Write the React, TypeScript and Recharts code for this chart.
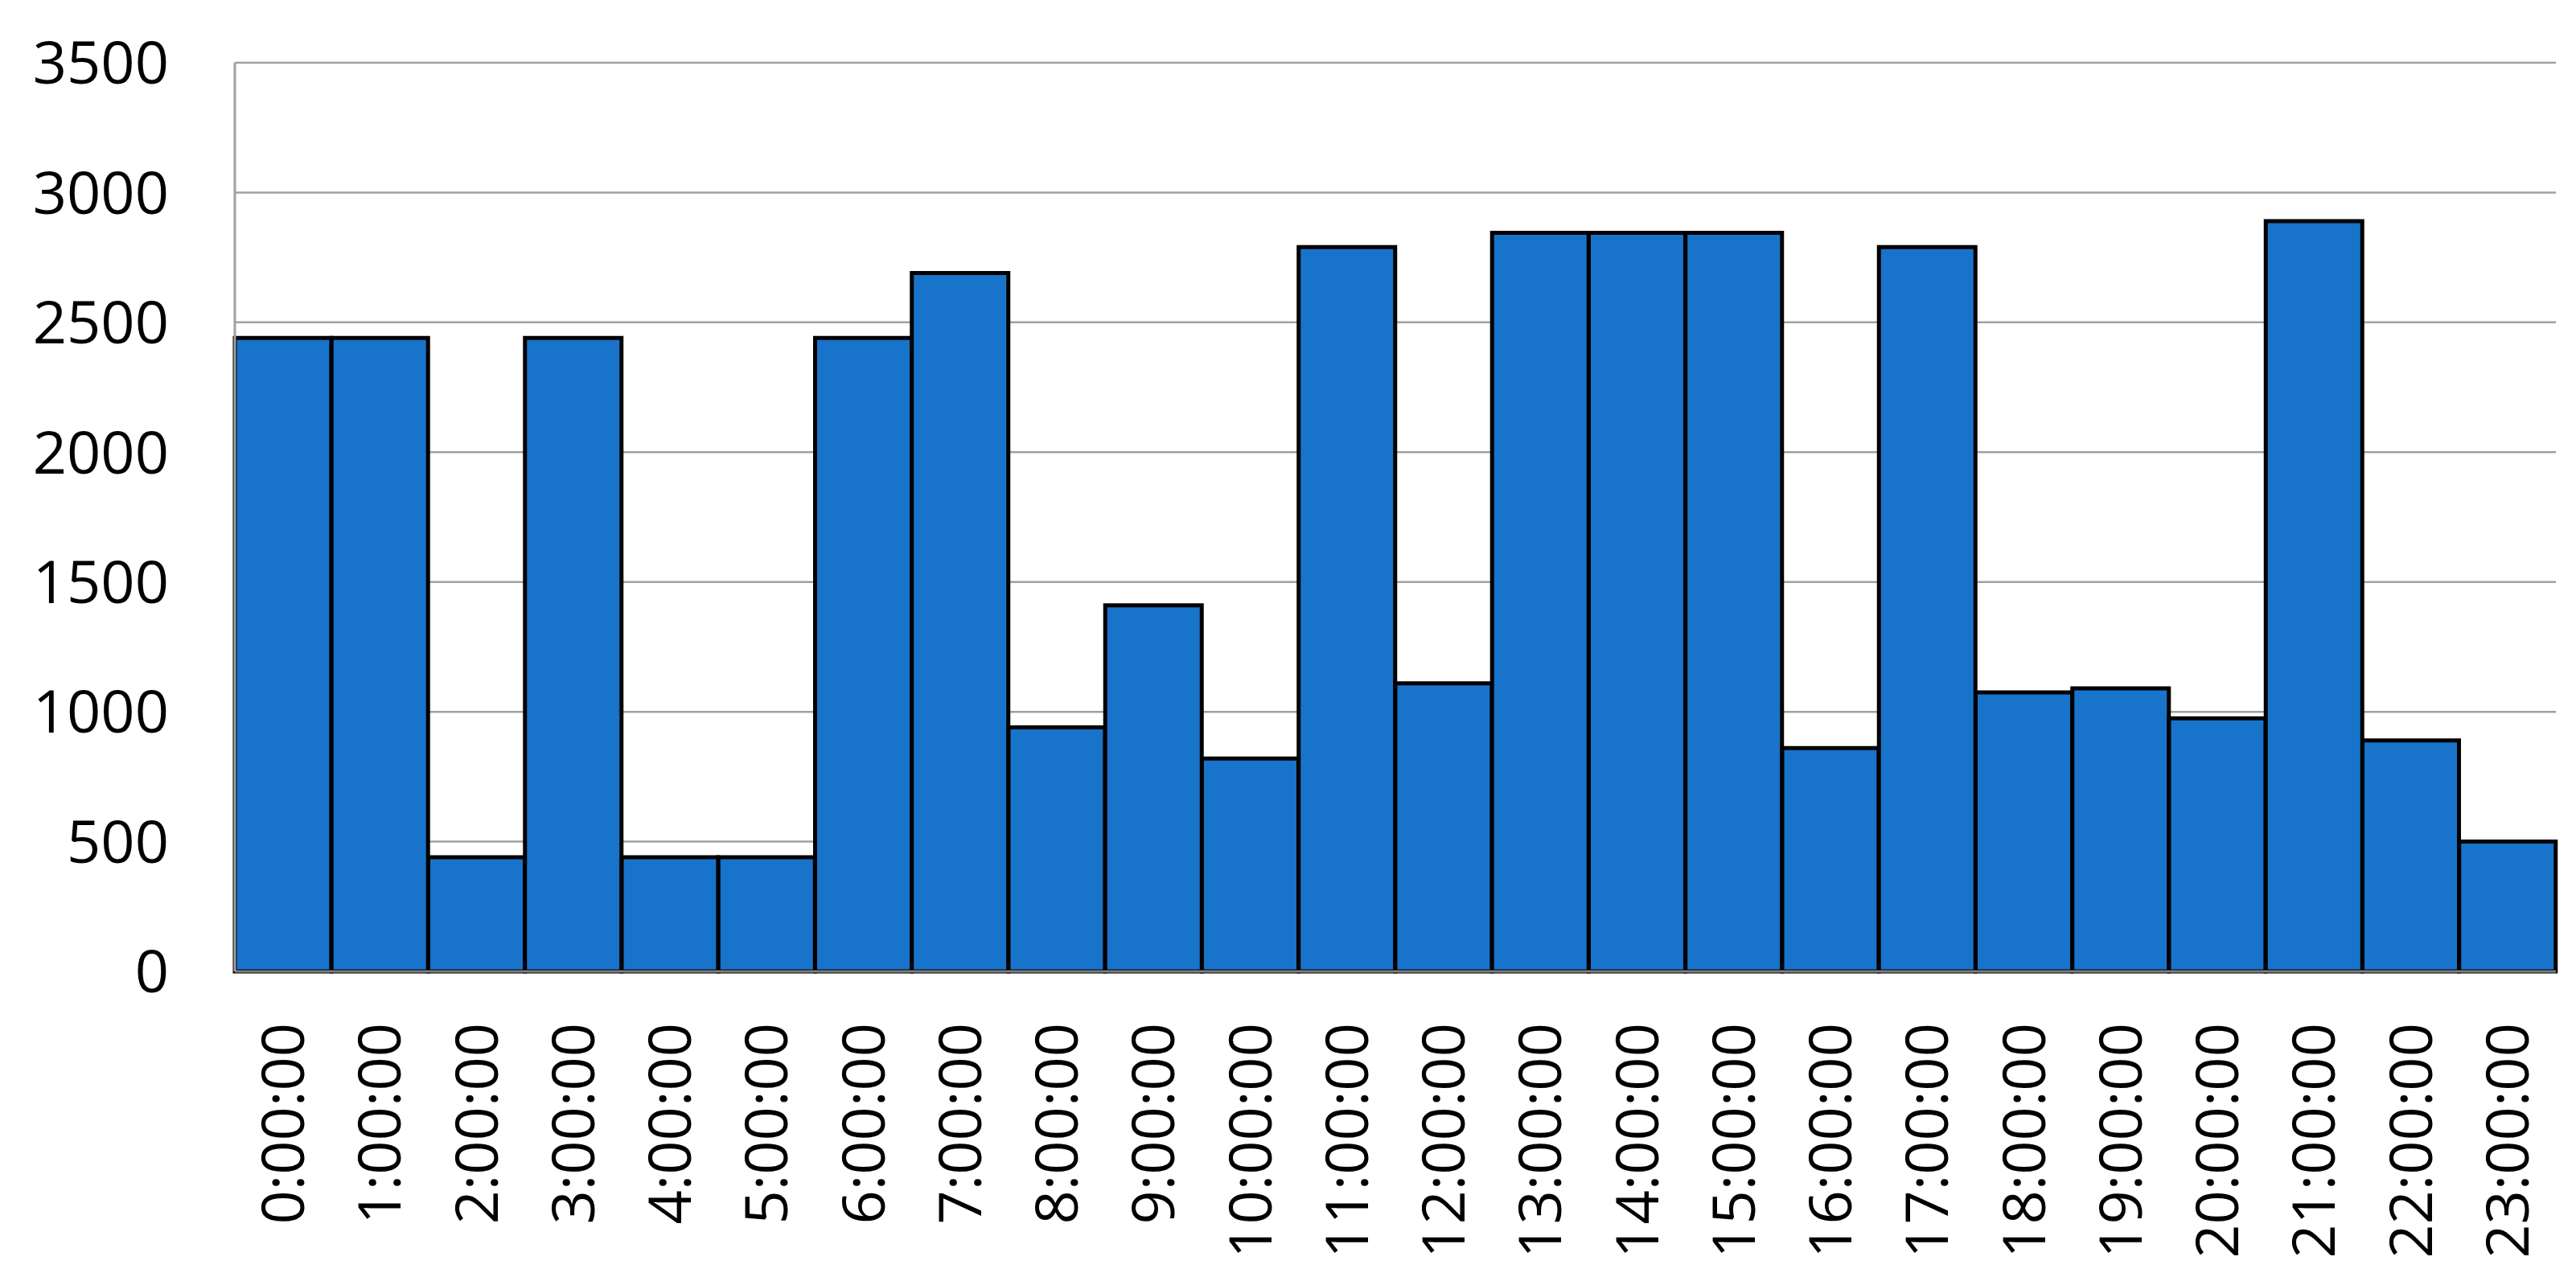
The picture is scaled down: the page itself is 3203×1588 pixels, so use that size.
import React from "react";
import {
  BarChart,
  Bar,
  XAxis,
  YAxis,
  CartesianGrid,
} from "recharts";

// hourly values
const hours = [
  "0:00:00", "1:00:00", "2:00:00", "3:00:00", "4:00:00", "5:00:00",
  "6:00:00", "7:00:00", "8:00:00", "9:00:00", "10:00:00", "11:00:00",
  "12:00:00", "13:00:00", "14:00:00", "15:00:00", "16:00:00", "17:00:00",
  "18:00:00", "19:00:00", "20:00:00", "21:00:00", "22:00:00", "23:00:00",
];

const counts = [
  2440, 2440, 440, 2440, 440, 440,
  2440, 2690, 940, 1410, 820, 2790,
  1110, 2845, 2845, 2845, 860, 2790,
  1075, 1090, 975, 2890, 890, 500,
];

const yTicks = [0, 500, 1000, 1500, 2000, 2500, 3000, 3500];

const FONT = "'Open Sans', 'Liberation Sans', sans-serif";

const data = hours.map((h, i) => ({ hour: h, value: counts[i] }));

// rotated hour labels, reading bottom to top
const HourTick = (props: any) => {
  const { x, y, payload } = props;
  return (
    <text
      x={x}
      y={y}
      transform={`rotate(-90, ${x}, ${y})`}
      dx={-56}
      dy={26}
      textAnchor="end"
      fill="#000"
      fontSize={74}
      fontFamily={FONT}
    >
      {payload.value}
    </text>
  );
};

export default function App() {
  return (
    <div
      style={{
        position: "absolute",
        left: 0,
        top: 0,
        width: 3203,
        height: 1588,
        background: "#fff",
      }}
    >
      <BarChart
        width={3203}
        height={1588}
        data={data}
        margin={{ top: 78, right: 25, left: 0, bottom: 0 }}
        barCategoryGap={0}
        barGap={0}
      >
        <CartesianGrid
          vertical={false}
          stroke="#a0a0a0"
          strokeWidth={2.5}
        />

        <XAxis
          dataKey="hour"
          height={380}
          interval={0}
          tickLine={false}
          axisLine={{ stroke: "#7f7f7f", strokeWidth: 3 }}
          tick={<HourTick />}
        />

        <YAxis
          width={292}
          domain={[0, 3500]}
          ticks={yTicks}
          interval={0}
          tickLine={false}
          tickSize={0}
          tickMargin={82}
          axisLine={{ stroke: "#a0a0a0", strokeWidth: 3 }}
          tick={{ fill: "#000", fontSize: 74, fontFamily: FONT }}
        />

        <Bar
          dataKey="value"
          fill="#1873ca"
          stroke="#000"
          strokeWidth={5}
          isAnimationActive={false}
        />
      </BarChart>
    </div>
  );
}
